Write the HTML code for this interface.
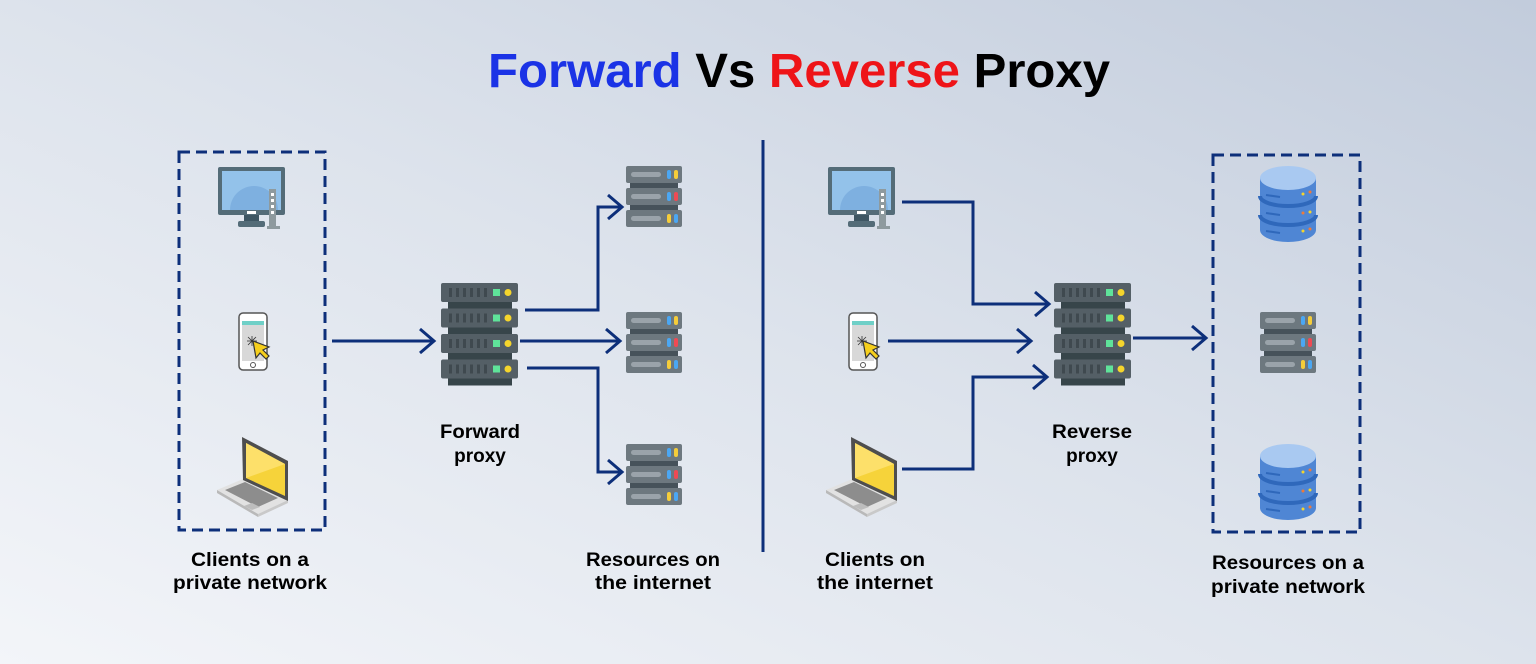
<!DOCTYPE html>
<html><head><meta charset="utf-8"><style>
html,body{margin:0;padding:0;width:1536px;height:664px;overflow:hidden}
svg{display:block}
text{font-family:"Liberation Sans",sans-serif;font-weight:bold}
</style></head><body>
<svg width="1536" height="664" viewBox="0 0 1536 664" xmlns="http://www.w3.org/2000/svg">
<defs>
<linearGradient id="bg" x1="0" y1="1" x2="1" y2="0">
<stop offset="0" stop-color="#f3f5f9"/><stop offset="0.5" stop-color="#dde3ec"/><stop offset="1" stop-color="#c2ccdc"/>
</linearGradient>
<g id="big">
<g id="bu">
<rect x="0" y="0" width="77" height="19" rx="2" fill="#545f66"/>
<rect x="7" y="19" width="64" height="7" fill="#37454a"/>
<g fill="#3f494f"><rect x="8" y="5" width="3" height="9"/><rect x="15" y="5" width="3" height="9"/><rect x="22" y="5" width="3" height="9"/><rect x="29" y="5" width="3" height="9"/><rect x="36" y="5" width="3" height="9"/><rect x="43" y="5" width="3" height="9"/></g>
<rect x="52" y="6" width="7" height="7" fill="#5fe39a"/>
<circle cx="67" cy="9.5" r="3.5" fill="#f5d52c"/>
</g>
<use href="#bu" y="25.5"/><use href="#bu" y="51"/><use href="#bu" y="76.5"/>
</g>
<g id="small">
<rect x="0" y="0" width="56" height="17" rx="2" fill="#6d787f"/>
<rect x="4" y="17" width="48" height="5" fill="#46525a"/>
<rect x="0" y="22" width="56" height="17" rx="2" fill="#6d787f"/>
<rect x="4" y="39" width="48" height="5" fill="#46525a"/>
<rect x="0" y="44" width="56" height="17" rx="2" fill="#6d787f"/>
<g fill="#9aa3aa"><rect x="5" y="6" width="30" height="5" rx="2.5"/><rect x="5" y="28" width="30" height="5" rx="2.5"/><rect x="5" y="50" width="30" height="5" rx="2.5"/></g>
<rect x="41" y="4" width="4" height="9" rx="2" fill="#4ba7f3"/><rect x="48" y="4" width="4" height="9" rx="2" fill="#f5cd3a"/>
<rect x="41" y="26" width="4" height="9" rx="2" fill="#4ba7f3"/><rect x="48" y="26" width="4" height="9" rx="2" fill="#ef4a54"/>
<rect x="41" y="48" width="4" height="9" rx="2" fill="#f5cd3a"/><rect x="48" y="48" width="4" height="9" rx="2" fill="#4ba7f3"/>
</g>
<g id="db">
<path d="M0 12 V64 A28 12 0 0 0 56 64 V12 Z" fill="#4f86d4"/>
<path d="M0 30 A28 10 0 0 0 56 30" stroke="#2f68bb" stroke-width="4" fill="none"/>
<path d="M0 49 A28 10 0 0 0 56 49" stroke="#2f68bb" stroke-width="4" fill="none"/>
<ellipse cx="28" cy="12" rx="28" ry="12" fill="#a9c9f1"/>
<g stroke="#2f68bb" stroke-width="2"><line x1="6" y1="29" x2="20" y2="31"/><line x1="6" y1="47" x2="20" y2="49"/><line x1="6" y1="65" x2="20" y2="67"/></g>
<g fill="#f5d52c"><circle cx="43" cy="28" r="1.5"/><circle cx="50" cy="46" r="1.5"/><circle cx="43" cy="65" r="1.5"/></g>
<g fill="#ef7a3a"><circle cx="50" cy="26" r="1.5"/><circle cx="43" cy="47" r="1.5"/><circle cx="50" cy="63" r="1.5"/></g>
</g>
<g id="mon">
<rect x="0" y="0" width="67" height="48" rx="2" fill="#546c78"/>
<rect x="4" y="4" width="59" height="39" fill="#93c2ea"/>
<path d="M12 43 A24 24 0 0 1 60 43 Z" fill="#7eb0e0"/>
<rect x="29" y="44" width="9" height="3" fill="#fff"/>
<rect x="26" y="48" width="15" height="6" fill="#3e5663"/>
<rect x="20" y="54" width="27" height="6" rx="2" fill="#546c78"/>
<rect x="51" y="22" width="7" height="39" fill="#8e9a9e"/>
<rect x="49" y="59" width="13" height="3" fill="#8e9a9e"/>
<g fill="#fff"><rect x="53" y="26" width="3" height="3"/><rect x="53" y="32" width="3" height="3"/><rect x="53" y="38" width="3" height="3"/><rect x="53" y="44" width="3" height="3"/></g>
</g>
<g id="phone">
<rect x="1" y="1" width="28" height="57" rx="4" fill="#fff" stroke="#555" stroke-width="1.5"/>
<rect x="4" y="9" width="22" height="40" fill="#d8d8d8"/>
<rect x="4" y="9" width="22" height="4" fill="#6fd0c7"/>
<circle cx="15" cy="53" r="2.5" fill="none" stroke="#555"/>
<g stroke="#333" stroke-width="0.8"><line x1="14" y1="24" x2="14" y2="34"/><line x1="9" y1="29" x2="19" y2="29"/><line x1="10" y1="25" x2="18" y2="33"/><line x1="18" y1="25" x2="10" y2="33"/></g>
<path d="M15 29 L18 46 L22 41 L28 47 L31 44 L25 38 L31 35 Z" fill="#f6cf1c" stroke="#333" stroke-width="1.2"/>
</g>
<g id="lap">
<path d="M1 53 L27 42 L72 63 L42 77 Z" fill="#e2e2e2"/>
<path d="M1 53 L42 77 L42 80 L1 56 Z" fill="#b9b9b9"/>
<path d="M42 77 L72 63 L72 66 L42 80 Z" fill="#c9c9c9"/>
<path d="M9 53 L29 45 L62 61 L42 70 Z" fill="#8d8d8d"/>
<path d="M28 69 L36 66 L44 70 L36 73 Z" fill="#bdbdbd"/>
<path d="M26 0 L72 24 L72 64 L27 43 Z" fill="#4e4e4e"/>
<path d="M30 6 L69 27 L69 59 L30 41 Z" fill="#f6d33a"/>
<path d="M30 6 L69 27 L30 41 Z" fill="#fde06a"/>
</g>
</defs>
<rect width="1536" height="664" fill="url(#bg)"/>
<text x="799" y="87" font-size="48" text-anchor="middle" textLength="622" lengthAdjust="spacingAndGlyphs"><tspan fill="#1b33e6">Forward</tspan> <tspan fill="#000">Vs</tspan> <tspan fill="#ee1418">Reverse</tspan> <tspan fill="#000">Proxy</tspan></text>

<g fill="none" stroke="#0d2f7a" stroke-width="3" stroke-dasharray="11 6">
<rect x="179" y="152" width="146" height="378"/>
<rect x="1213" y="155" width="147" height="377"/>
</g>
<line x1="763" y1="140" x2="763" y2="552" stroke="#0d2f7a" stroke-width="3"/>

<use href="#mon" x="218" y="167"/>
<use href="#phone" x="238" y="312"/>
<use href="#lap" x="216" y="437"/>
<use href="#big" x="441" y="283"/>
<use href="#small" x="626" y="166"/>
<use href="#small" x="626" y="312"/>
<use href="#small" x="626" y="444"/>

<use href="#mon" x="828" y="167"/>
<use href="#phone" x="848" y="312"/>
<use href="#lap" x="825" y="437"/>
<use href="#big" x="1054" y="283"/>
<use href="#db" x="1260" y="166"/>
<use href="#small" x="1260" y="312"/>
<use href="#db" x="1260" y="444"/>

<g fill="none" stroke="#0d2f7a" stroke-width="3">
<path d="M332 341 H434 M420 329 L434 341 L420 353"/>
<path d="M525 310 H598 V207 H622 M608 195 L622 207 L608 219"/>
<path d="M520 341 H620 M606 329 L620 341 L606 353"/>
<path d="M527 368 H598 V472 H622 M608 460 L622 472 L608 484"/>
<path d="M902 202 H973 V304 H1049 M1035 292 L1049 304 L1035 316"/>
<path d="M888 341 H1031 M1017 329 L1031 341 L1017 353"/>
<path d="M902 469 H973 V377 H1047 M1033 365 L1047 377 L1033 389"/>
<path d="M1133 338 H1206 M1192 326 L1206 338 L1192 350"/>
</g>

<g font-size="19" text-anchor="middle" fill="#000">
<text x="480" y="438" textLength="80" lengthAdjust="spacingAndGlyphs">Forward</text><text x="480" y="462">proxy</text>
<text x="250" y="566" textLength="118" lengthAdjust="spacingAndGlyphs">Clients on a</text><text x="250" y="589" textLength="154" lengthAdjust="spacingAndGlyphs">private network</text>
<text x="653" y="566" textLength="134" lengthAdjust="spacingAndGlyphs">Resources on</text><text x="653" y="589" textLength="116" lengthAdjust="spacingAndGlyphs">the internet</text>
<text x="875" y="566" textLength="100" lengthAdjust="spacingAndGlyphs">Clients on</text><text x="875" y="589" textLength="116" lengthAdjust="spacingAndGlyphs">the internet</text>
<text x="1092" y="438" textLength="80" lengthAdjust="spacingAndGlyphs">Reverse</text><text x="1092" y="462">proxy</text>
<text x="1288" y="569" textLength="152" lengthAdjust="spacingAndGlyphs">Resources on a</text><text x="1288" y="593" textLength="154" lengthAdjust="spacingAndGlyphs">private network</text>
</g>
</svg>
</body></html>
